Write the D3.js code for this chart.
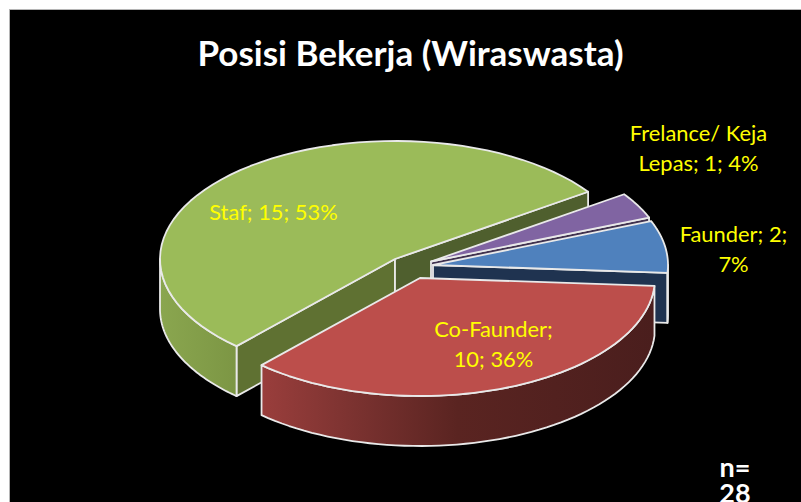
<!DOCTYPE html>
<html><head><meta charset="utf-8">
<script src="https://cdn.jsdelivr.net/npm/d3@7/dist/d3.min.js"></script>
<style>html,body{margin:0;padding:0;background:#fff;overflow:hidden}svg{display:block}text{font-family:Lato,"Open Sans",sans-serif}</style>
</head><body><svg id="c" width="801" height="502"></svg>
<script>
const categories = ["Staf", "Frelance/ Keja Lepas", "Faunder", "Co-Faunder"];
const values = [15, 1, 2, 10];
const percents = [53, 4, 7, 36];
const labelHeads = [null, "Frelance/ Keja", "Faunder; 2;", "Co-Faunder;"];
const titleText = "Posisi Bekerja (Wiraswasta)";
const sampleText = ["n=", "28"];

const W = 801, H = 502;
const geom = {cx:395, cy:259, rx:235, ry:118, depth:50, startDeg:222.4};
const explode = [[0,0],[36,2.5],[38,6],[25,19]];
const palette = [
  {top:"#9bbb59", wall:["#5f7132","#4f5f2e"], side:[[0,"#8aa64f"],[1,"#7c9644"]], sx:[160,237]},
  {top:"#8064a2", wall:["#40324f","#40324f"], side:[[0,"#4b3a61"],[1,"#4b3a61"]], sx:[620,650]},
  {top:"#4f81bd", wall:["#1f3350","#1f3350"], side:[[0,"#1f3350"],[1,"#1f3350"]], sx:[660,670]},
  {top:"#bc4e4b", wall:["#4d1f1e","#4d1f1e"], side:[[0,"#9a3e3c"],[0.22,"#7d3331"],[0.5,"#5a2421"],[1,"#4a1e1d"]], sx:[261,654]}
];
const edge = "#e9e9e9";
const yellow = "#ffff00";

const svg = d3.select("#c");
svg.append("rect").attr("width",W).attr("height",H).attr("fill","#fff");
svg.append("rect").attr("x",9.5).attr("y",9.5).attr("width",W).attr("height",H)
  .attr("fill","#000").attr("stroke","#b5b5b5").attr("stroke-width",1);

const pie = d3.pie().sort(null).value(d=>d)
  .startAngle(geom.startDeg*Math.PI/180)
  .endAngle((geom.startDeg+360)*Math.PI/180);
const arcs = pie(values);
const defs = svg.append("defs");
const line = d3.line();
const px = (a,o) => geom.cx + o[0] + geom.rx*Math.sin(a);
const py = (a,o) => geom.cy + o[1] - geom.ry*Math.cos(a);
const sample = (a0,a1,o,dy=0) => d3.range(0,61).map(i=>{
  const a=a0+(a1-a0)*i/60; return [px(a,o),py(a,o)+dy];
});
const norm = a => { const t=2*Math.PI; return ((a%t)+t)%t; };

arcs.forEach((d,i)=>{
  const o = explode[i], c = palette[i], D = geom.depth;
  const ax = geom.cx+o[0], ay = geom.cy+o[1];
  const g = svg.append("g").attr("stroke",edge).attr("stroke-width",1.8).attr("stroke-linejoin","round");
  const wall = (a,fill)=>g.append("path").attr("fill",fill)
    .attr("d",line([[ax,ay],[px(a,o),py(a,o)],[px(a,o),py(a,o)+D],[ax,ay+D]])+"Z");
  if(i===0){ wall(d.startAngle,c.wall[0]); wall(d.endAngle,c.wall[1]); }
  if(i===1){ wall(d.endAngle,c.wall[0]); }
  if(i===2){ wall(d.endAngle,c.wall[0]); }
  const lo = Math.PI/2, hi = 3*Math.PI/2;
  let s = d.startAngle, e = d.endAngle;
  if(i===0){ s = norm(d.startAngle); e = hi; }
  else { s = norm(s); e = s+(d.endAngle-d.startAngle); s=Math.max(s,lo); e=Math.min(e,hi); }
  if(e>s){
    const id="side"+i;
    const lg=defs.append("linearGradient").attr("id",id).attr("gradientUnits","userSpaceOnUse")
      .attr("x1",c.sx[0]).attr("x2",c.sx[1]).attr("y1",0).attr("y2",0);
    c.side.forEach(st=>lg.append("stop").attr("offset",st[0]).attr("stop-color",st[1]));
    const up=sample(s,e,o), dn=sample(s,e,o,D).reverse();
    g.append("path").attr("fill",`url(#${id})`).attr("d",line(up.concat(dn))+"Z");
  }
  g.append("path").attr("fill",c.top)
    .attr("d",line([[ax,ay]].concat(sample(d.startAngle,d.endAngle,o)))+"Z");
});

svg.append("text").attr("x",410.5).attr("y",66).attr("text-anchor","middle")
  .attr("font-size",35).attr("font-weight",700).attr("fill","#fff").text(titleText);

const labelPos = [[273.5,220,30],[698.5,141,30],[733.5,242,30],[493.5,337,30]];
categories.forEach((cat,i)=>{
  const full = `${cat}; ${values[i]}; ${percents[i]}%`;
  const head = labelHeads[i];
  const lines = head ? [head, full.slice(head.length+1)] : [full];
  const p = labelPos[i];
  lines.forEach((t,k)=>svg.append("text").attr("x",p[0]).attr("y",p[1]+k*p[2])
    .attr("text-anchor","middle").attr("font-size",21.9).attr("fill",yellow).text(t));
});

sampleText.forEach((t,k)=>svg.append("text").attr("x",735).attr("y",477+k*26)
  .attr("text-anchor","middle").attr("font-size",27).attr("font-weight",700).attr("fill","#fff").text(t));
</script></body></html>
